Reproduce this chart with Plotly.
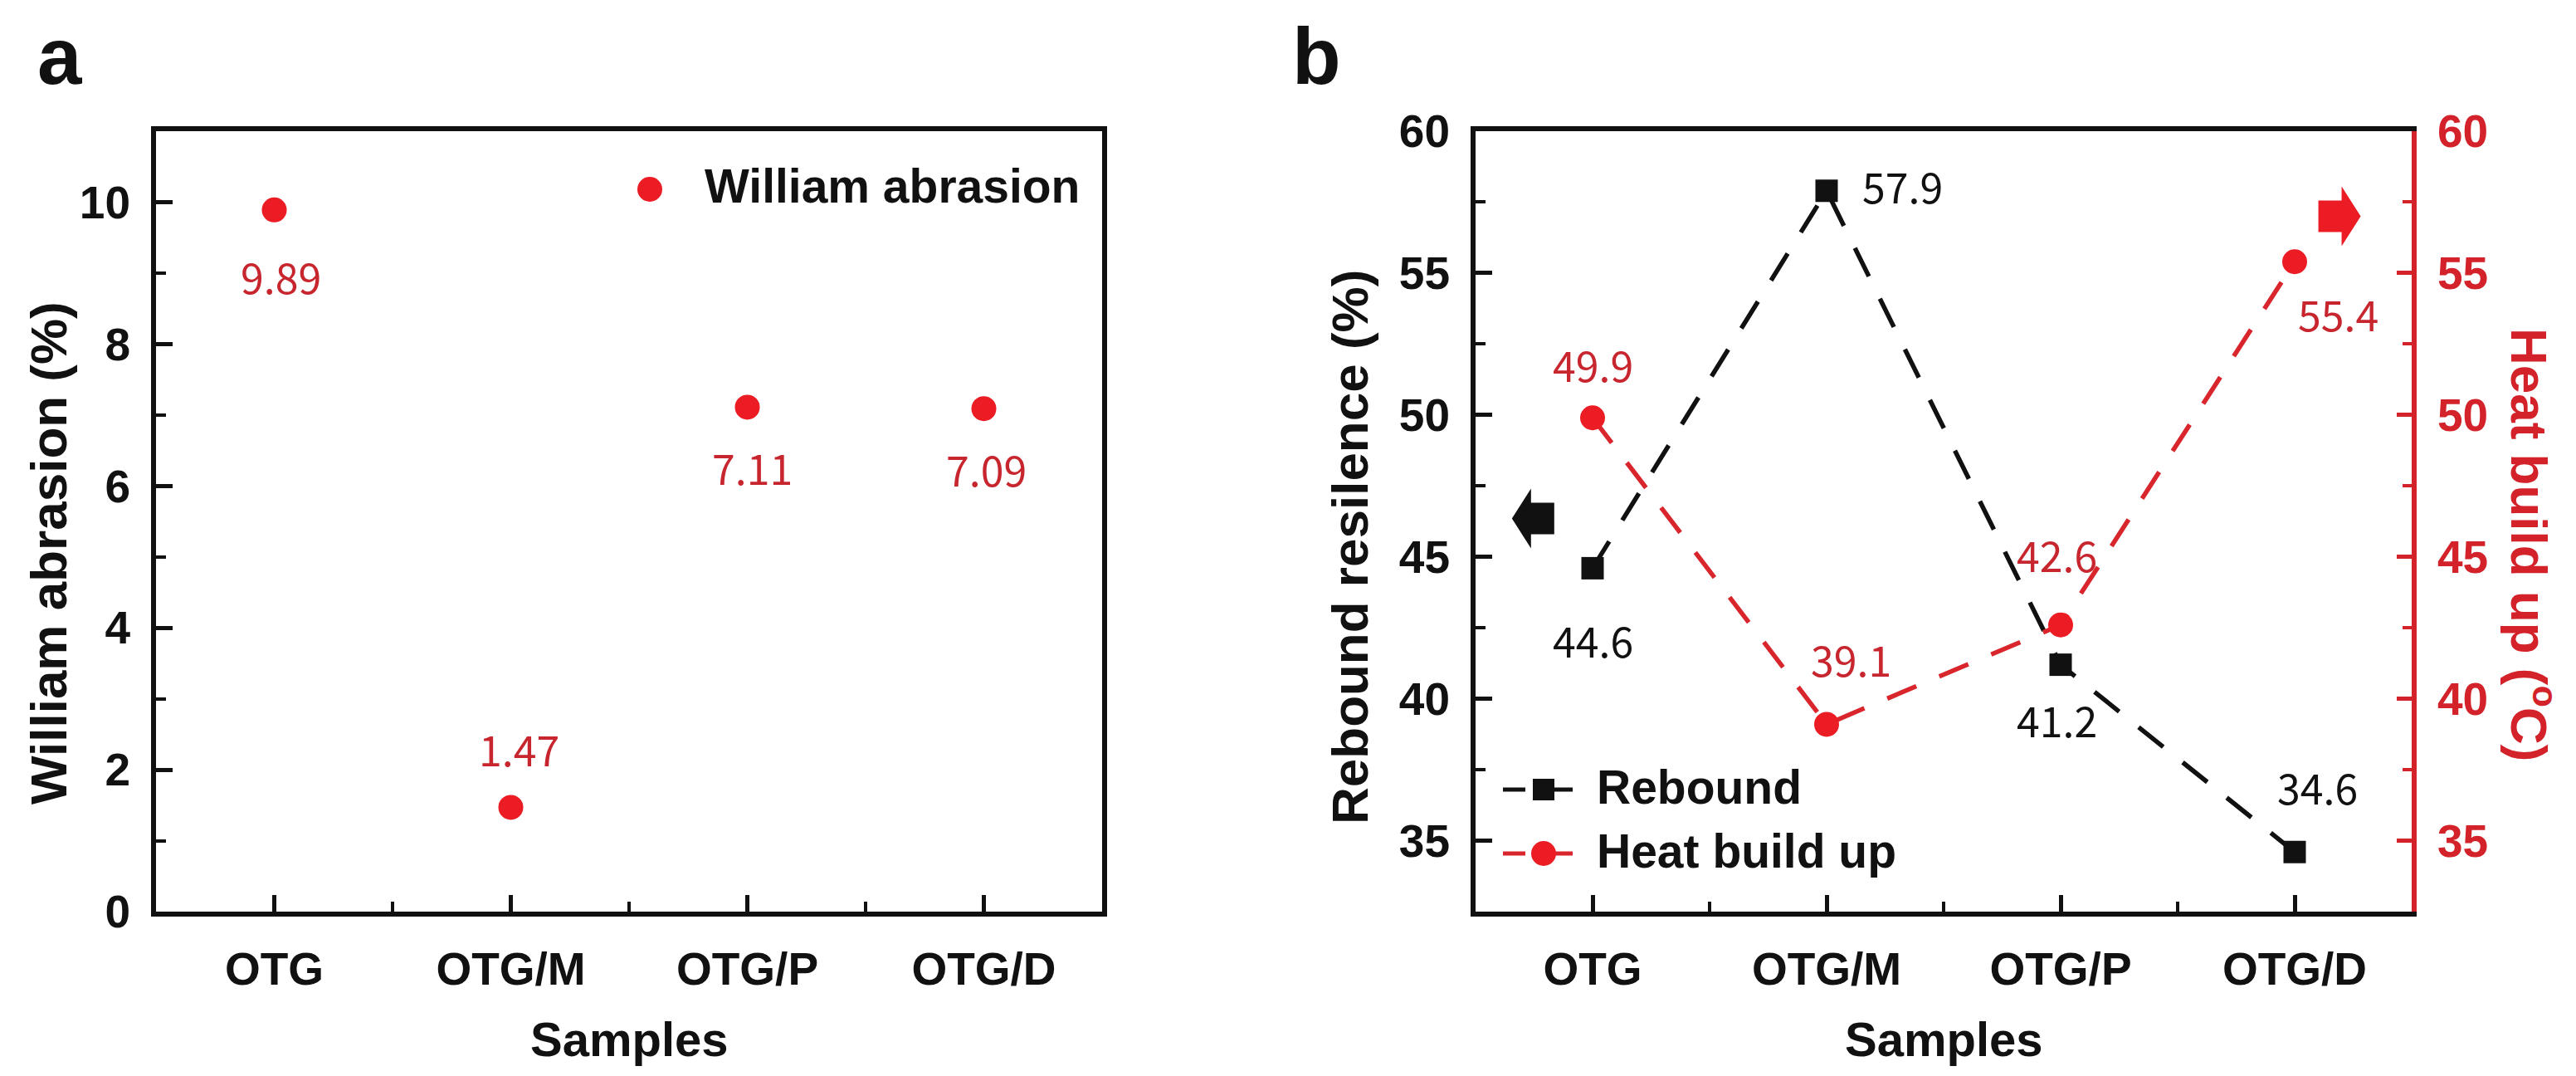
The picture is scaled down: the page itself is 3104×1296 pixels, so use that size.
import plotly.graph_objects as go

# ---------------- data ----------------
categories = ["OTG", "OTG/M", "OTG/P", "OTG/D"]
abrasion = [9.89, 1.47, 7.11, 7.09]
rebound = [44.6, 57.9, 41.2, 34.6]
heat = [49.9, 39.1, 42.6, 55.4]
abrasion_ticks = [0, 2, 4, 6, 8, 10]
b_ticks = [35, 40, 45, 50, 55, 60]

# ---------------- geometry helpers ----------------
W, H = 3104, 1296
L, R, T, B = 180, 206, 150, 206
PW = W - L - R
PH = H - T - B


def px(x):
    return (x - L) / PW


def py(y):
    return (H - B - y) / PH


idx = list(range(len(categories)))

BLACK = "#111111"
RED_MARK = "#ec1c24"
RED_LINE = "#d9262c"
RED_LABEL = "#c8262e"
RED_AXIS = "#d3222a"

SANS = "Liberation Sans, Arial, Helvetica, sans-serif"
LBL = "Noto Sans CJK KR, Noto Sans, sans-serif"
TICKFONT = dict(family=SANS, size=55, color=BLACK, weight="bold")

# label offsets (pixels) for value annotations
abr_shift = [(8, -79), (10, 71), (6, -72), (3, -72)]
reb_shift = [(0, -86), (91, 7), (-5, -65), (27, 79)]
heat_shift = [(0, 65), (29, 79), (-5, 86), (52, -62)]

fig = go.Figure()

fig.add_trace(go.Scatter(
    x=idx, y=abrasion, mode="markers", name="William abrasion",
    marker=dict(symbol="circle", size=30, color=RED_MARK, line=dict(width=0)),
    xaxis="x", yaxis="y", showlegend=False,
))
fig.add_trace(go.Scatter(
    x=idx, y=rebound, mode="lines+markers", name="Rebound",
    line=dict(color=BLACK, width=5.5, dash="38px,30px"),
    marker=dict(symbol="square", size=27, color=BLACK, line=dict(width=0)),
    xaxis="x2", yaxis="y2", showlegend=False,
))
fig.add_trace(go.Scatter(
    x=idx, y=heat, mode="lines+markers", name="Heat build up",
    line=dict(color=RED_LINE, width=5.5, dash="38px,30px"),
    marker=dict(symbol="circle", size=30, color=RED_MARK, line=dict(width=0)),
    xaxis="x2", yaxis="y3", showlegend=False,
))

axis_common = dict(
    showline=True, linewidth=6, linecolor=BLACK,
    ticks="inside", ticklen=20, tickwidth=5, tickcolor=BLACK,
    showgrid=False, zeroline=False, tickfont=TICKFONT,
)
minor_black = dict(ticks="inside", ticklen=12, tickwidth=4, tickcolor=BLACK, showgrid=False)

fig.update_layout(
    width=W, height=H,
    margin=dict(l=L, r=R, t=T, b=B, pad=0),
    paper_bgcolor="white", plot_bgcolor="white",
    showlegend=False,
    xaxis=dict(
        domain=[0, px(1320)], range=[-0.5, 3.5], anchor="y",
        tickmode="array", tickvals=idx, ticktext=categories,
        minor=dict(tickmode="array", tickvals=[0.5, 1.5, 2.5], **minor_black),
        mirror=True, ticklabelstandoff=16, **axis_common,
    ),
    yaxis=dict(
        domain=[0, 1], range=[0, 11], anchor="x",
        tickmode="array", tickvals=abrasion_ticks,
        minor=dict(tickmode="linear", tick0=0, dtick=1, **minor_black),
        mirror=True, ticklabelstandoff=14, **axis_common,
    ),
    xaxis2=dict(
        domain=[px(1770), 1], range=[-0.5, 3.5], anchor="y2",
        tickmode="array", tickvals=idx, ticktext=categories,
        minor=dict(tickmode="array", tickvals=[0.5, 1.5, 2.5], **minor_black),
        mirror=True, ticklabelstandoff=16, **axis_common,
    ),
    yaxis2=dict(
        domain=[0, 1], range=[32.5, 60], anchor="x2",
        tickmode="array", tickvals=b_ticks,
        minor=dict(tickmode="linear", tick0=0, dtick=2.5, **minor_black),
        ticklabelstandoff=14, **axis_common,
    ),
    yaxis3=dict(
        domain=[0, 1], range=[32.5, 60], anchor="x2", overlaying="y2", side="right",
        tickmode="array", tickvals=b_ticks,
        showline=True, linewidth=6, linecolor=RED_AXIS,
        ticks="inside", ticklen=18, tickwidth=5, tickcolor=RED_AXIS,
        minor=dict(tickmode="linear", tick0=0, dtick=2.5, ticks="inside",
                   ticklen=11, tickwidth=4, tickcolor=RED_AXIS, showgrid=False),
        showgrid=False, zeroline=False, ticklabelstandoff=14,
        tickfont=dict(family=SANS, size=55, color=RED_AXIS, weight="bold"),
    ),
)

ann = []
# value labels
for i, v in enumerate(abrasion):
    ann.append(dict(x=idx[i], y=v, xref="x", yref="y", text=f"{v:.2f}", showarrow=False,
                    xshift=abr_shift[i][0], yshift=abr_shift[i][1],
                    font=dict(family=LBL, size=50, color=RED_LABEL)))
for i, v in enumerate(rebound):
    ann.append(dict(x=idx[i], y=v, xref="x2", yref="y2", text=f"{v:.1f}", showarrow=False,
                    xshift=reb_shift[i][0], yshift=reb_shift[i][1],
                    font=dict(family=LBL, size=50, color=BLACK)))
for i, v in enumerate(heat):
    ann.append(dict(x=idx[i], y=v, xref="x2", yref="y3", text=f"{v:.1f}", showarrow=False,
                    xshift=heat_shift[i][0], yshift=heat_shift[i][1],
                    font=dict(family=LBL, size=50, color=RED_LABEL)))

TITLEFONT = dict(family=SANS, size=58, color=BLACK, weight="bold")
VTITLE = dict(family=SANS, size=62, color=BLACK, weight="bold")
# panel letters
ann.append(dict(x=px(64), y=py(4), xref="paper", yref="paper", text="a", showarrow=False,
                xanchor="center", yanchor="top",
                font=dict(family=SANS, size=96, color=BLACK, weight="bold")))
ann.append(dict(x=px(1578), y=py(4), xref="paper", yref="paper", text="b", showarrow=False,
                xanchor="center", yanchor="top",
                font=dict(family=SANS, size=96, color=BLACK, weight="bold")))
# axis titles
ann.append(dict(x=px(750), y=py(1243), xref="paper", yref="paper", text="Samples", showarrow=False,
                xanchor="center", yanchor="middle", font=TITLEFONT))
ann.append(dict(x=px(2334), y=py(1243), xref="paper", yref="paper", text="Samples", showarrow=False,
                xanchor="center", yanchor="middle", font=TITLEFONT))
ann.append(dict(x=px(50), y=py(658), xref="paper", yref="paper", text="William abrasion (%)",
                showarrow=False, textangle=-90, xanchor="center", yanchor="middle", font=VTITLE))
ann.append(dict(x=px(1618), y=py(651), xref="paper", yref="paper", text="Rebound resilence (%)",
                showarrow=False, textangle=-90, xanchor="center", yanchor="middle", font=VTITLE))
ann.append(dict(x=px(3044), y=py(648), xref="paper", yref="paper",
                text="Heat build up (<sup>o</sup>C)",
                showarrow=False, textangle=90, xanchor="center", yanchor="middle",
                font=dict(family=SANS, size=62, color=RED_AXIS, weight="bold")))
# legend texts
LEGFONT = dict(family=SANS, size=57, color=BLACK, weight="bold")
ann.append(dict(x=px(839), y=py(216), xref="paper", yref="paper", text="William abrasion",
                showarrow=False, xanchor="left", yanchor="middle", font=LEGFONT))
ann.append(dict(x=px(1914), y=py(940), xref="paper", yref="paper", text="Rebound",
                showarrow=False, xanchor="left", yanchor="middle", font=LEGFONT))
ann.append(dict(x=px(1914), y=py(1017), xref="paper", yref="paper", text="Heat build up",
                showarrow=False, xanchor="left", yanchor="middle", font=LEGFONT))
fig.update_layout(annotations=ann)

shapes = []


def circle(cx, cy, d, color):
    return dict(type="circle", xref="paper", yref="paper",
                x0=px(cx - d / 2), x1=px(cx + d / 2), y0=py(cy + d / 2), y1=py(cy - d / 2),
                fillcolor=color, line=dict(width=0))


def seg(xa, xb, y, color):
    return dict(type="line", xref="paper", yref="paper", x0=px(xa), x1=px(xb),
                y0=py(y), y1=py(y), line=dict(color=color, width=5))


# legend glyphs
shapes.append(circle(775, 220, 30, RED_MARK))
shapes.append(seg(1803, 1830, 943, BLACK))
shapes.append(seg(1852, 1887, 943, BLACK))
shapes.append(dict(type="rect", xref="paper", yref="paper",
                   x0=px(1839), x1=px(1865), y0=py(956), y1=py(930),
                   fillcolor=BLACK, line=dict(width=0)))
shapes.append(seg(1803, 1830, 1020, RED_LINE))
shapes.append(seg(1852, 1887, 1020, RED_LINE))
shapes.append(circle(1852, 1020, 30, RED_MARK))

# axis-pointing block arrows
left_arrow = "M -25,0 L -2,36 L -2,19 L 26,19 L 26,-19 L -2,-19 L -2,-36 Z"
right_arrow = "M 26,0 L 3,36 L 3,19 L -25,19 L -25,-19 L 3,-19 L 3,-36 Z"
shapes.append(dict(type="path", xref="x2", yref="y2", xsizemode="pixel", ysizemode="pixel",
                   xanchor=-0.256, yanchor=46.35, path=left_arrow,
                   fillcolor=BLACK, line=dict(width=0)))
shapes.append(dict(type="path", xref="x2", yref="y3", xsizemode="pixel", ysizemode="pixel",
                   xanchor=3.19, yanchor=57.0, path=right_arrow,
                   fillcolor=RED_MARK, line=dict(width=0)))
fig.update_layout(shapes=shapes)

fig.write_html("out.html")
